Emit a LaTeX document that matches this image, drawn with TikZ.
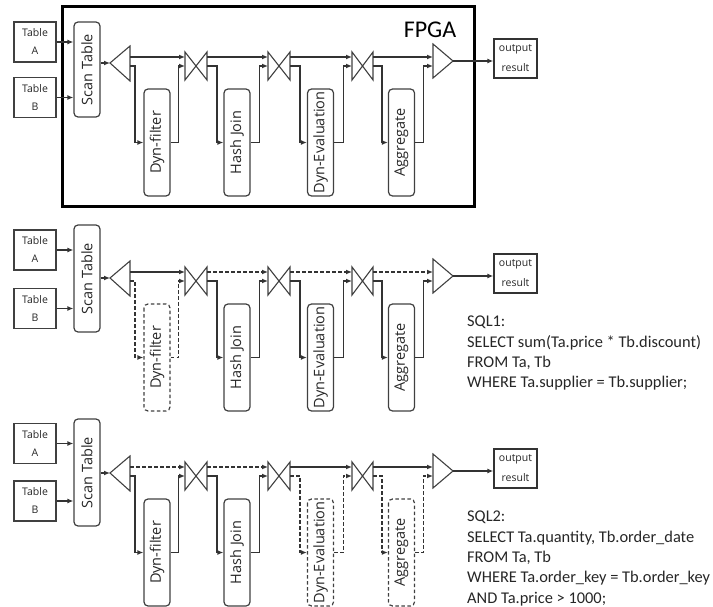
\documentclass[tikz,border=0pt]{standalone}
\usepackage{fontspec}
\setmainfont{Carlito}
\newfontfamily\lab{Open Sans}
\usetikzlibrary{arrows.meta}
\tikzset{
  ln/.style={draw=black!80, line width=1.2pt},
  shp/.style={draw=black!75, line width=1.1pt, line join=miter},
  arr/.style={ln, -{Latex[length=6pt,width=5pt]}},
  dsh/.style={dash pattern=on 3.5pt off 2.5pt},
  stage/.style={draw=black!75, line width=1.2pt, rounded corners=4pt, rotate=90,
    minimum width=107pt, minimum height=26pt, inner sep=0pt,
    font=\lab\fontsize{14.5}{15}\selectfont, text=black!85},
  scanbox/.style={stage, minimum width=95pt},
  tbl/.style={draw=black!75, line width=1.2pt, minimum width=42pt, minimum height=40pt,
    inner sep=0pt, align=center, font=\lab\fontsize{10.5}{18}\selectfont, text=black!85},
  outbox/.style={draw=black!80, line width=1.3pt, minimum width=43pt, minimum height=39pt,
    inner sep=0pt, align=center, font=\lab\fontsize{10.5}{20}\selectfont, text=black!85},
  sql/.style={anchor=north west, inner sep=0pt, align=left,
    font=\fontsize{16.4}{20.3}\selectfont, text=black!85},
  s1/.style={}, s2/.style={}, s3/.style={}, s4/.style={},
  fb/.style={}, hb/.style={}, eb/.style={}, ab/.style={}
}
\newcommand\pipeline[1]{%
  \coordinate (#1t1a) at (110,63);
  \coordinate (#1t1m) at (130,57);
  \coordinate (#1t1b) at (130,66);
  \draw[shp] (#1t1a) -- (130,46) -- (130,81) -- cycle;
  \draw[shp] (185,52) -- (207,80) -- (207,52) -- (185,80) -- cycle;
  \draw[shp] (268,52) -- (290,80) -- (290,52) -- (268,80) -- cycle;
  \draw[shp] (352,52) -- (373,80) -- (373,52) -- (352,80) -- cycle;
  \coordinate (#1s1im) at (185,57); \coordinate (#1s1ib) at (185,66);
  \coordinate (#1s1om) at (207,57); \coordinate (#1s1ob) at (207,66);
  \coordinate (#1s2im) at (268,57); \coordinate (#1s2ib) at (268,66);
  \coordinate (#1s2om) at (290,57); \coordinate (#1s2ob) at (290,66);
  \coordinate (#1s3im) at (352,57); \coordinate (#1s3ib) at (352,66);
  \coordinate (#1s3om) at (373,57); \coordinate (#1s3ob) at (373,66);
  \coordinate (#1t2m) at (433,57);
  \coordinate (#1t2b) at (433,66);
  \coordinate (#1t2a) at (453,61);
  \draw[shp] (433,44) -- (#1t2a) -- (433,78) -- cycle;
  \node[stage,fb] (#1f) at (157,142.5) {Dyn-filter};
  \node[stage,hb] (#1h) at (237,142.5) {Hash Join};
  \node[stage,eb] (#1e) at (320.5,142.5) {Dyn-Evaluation};
  \node[stage,ab] (#1g) at (401.5,142.5) {Aggregate};
  \draw[arr,s1] (#1t1m) -- (#1s1im);
  \draw[arr,s2] (#1s1om) -- (#1s2im);
  \draw[arr,s3] (#1s2om) -- (#1s3im);
  \draw[arr,s4] (#1s3om) -- (#1t2m);
  \draw[arr,fb] (#1t1b) -- ++(5,0) |- (#1f.north);
  \draw[arr,fb] (#1f.south) -- ++(8,0) |- (#1s1ib);
  \draw[arr,hb] (#1s1ob) -- ++(10,0) |- (#1h.north);
  \draw[arr,hb] (#1h.south) -- ++(9,0) |- (#1s2ib);
  \draw[arr,eb] (#1s2ob) -- ++(10,0) |- (#1e.north);
  \draw[arr,eb] (#1e.south) -- ++(9,0) |- (#1s3ib);
  \draw[arr,ab] (#1s3ob) -- ++(9,0) |- (#1g.north);
  \draw[arr,ab] (#1g.south) -- ++(8,0) |- (#1t2b);
  \node[outbox] (#1o) at (515.5,58.5) {output\\result};
  \draw[arr] (#1t2a) -- (#1t2a -| #1o.west);
}
\newcommand\inputs[5]{%
  \node[tbl] (#1A) at (35,#2) {Table\\A};
  \node[tbl] (#1B) at (35,#3) {Table\\B};
  \node[scanbox, minimum width=#5] (#1sc) at (87,#4) {Scan Table};
  \draw[arr] (#1A) -- (#1A -| #1sc.north);
  \draw[arr] (#1B) -- (#1B -| #1sc.north);
  \draw[arr] (#1sc.south |- #1t1a) -- (#1t1a);
}
\begin{document}
\begin{tikzpicture}[x=1pt,y=-1pt]
\useasboundingbox (0,0) rectangle (713,607);
% panel 1
\draw[black, line width=3pt] (62,7) rectangle (474,207);
\node[anchor=center, font=\fontsize{24}{24}\selectfont, text=black] (fpga) at (430,30) {FPGA};
\begin{scope}
  \pipeline{a}
  \inputs{a}{42}{97.5}{69.5}{95pt}
\end{scope}
% panel 2
\begin{scope}[shift={(0,215)}, s2/.style={dsh}, s3/.style={dsh}, s4/.style={dsh}, fb/.style={dsh}]
  \pipeline{b}
  \inputs{b}{35}{93.5}{63.5}{107pt}
  \node[sql] (sql1) at (467,101) {SQL1:\\SELECT sum(Ta.price * Tb.discount)\\FROM Ta, Tb\\WHERE Ta.supplier = Tb.supplier;};
\end{scope}
% panel 3
\begin{scope}[shift={(0,410)}, s1/.style={dsh}, s2/.style={dsh}, eb/.style={dsh}, ab/.style={dsh}]
  \pipeline{c}
  \inputs{c}{33.5}{91}{62.5}{107pt}
  \node[sql] (sql2) at (467,101) {SQL2:\\SELECT Ta.quantity, Tb.order\_date\\FROM Ta, Tb\\WHERE Ta.order\_key = Tb.order\_key\\AND Ta.price > 1000;};
\end{scope}
\end{tikzpicture}
\end{document}
